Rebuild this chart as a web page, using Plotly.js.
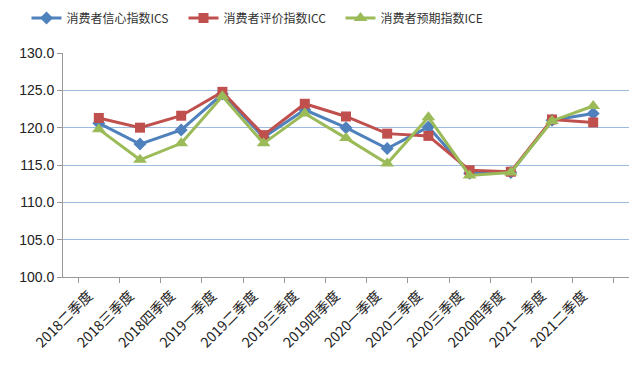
<!DOCTYPE html>
<html>
<head>
<meta charset="utf-8">
<script src="https://cdn.plot.ly/plotly-3.0.1.min.js"></script>
<style>html,body{margin:0;padding:0;background:#fff;}#chart{width:639px;height:374px;}</style>
</head>
<body>
<div id="chart"></div>
<script>
const categories = ["2018二季度","2018三季度","2018四季度","2019一季度","2019二季度","2019三季度","2019四季度","2020一季度","2020二季度","2020三季度","2020四季度","2021一季度","2021二季度"];
const icsValues = [120.6, 117.8, 119.7, 124.5, 118.7, 122.4, 120.0, 117.2, 120.1, 113.9, 114.0, 121.0, 121.9];
const iccValues = [121.3, 120.0, 121.6, 124.8, 119.0, 123.2, 121.5, 119.2, 118.9, 114.3, 114.1, 121.1, 120.7];
const iceValues = [119.8, 115.7, 117.9, 124.2, 117.9, 121.9, 118.6, 115.2, 121.4, 113.6, 114.0, 120.9, 122.9];
const seriesNames = ["消费者信心指数ICS", "消费者评价指数ICC", "消费者预期指数ICE"];

const traces = [
  {x: categories, y: icsValues, name: seriesNames[0], type: 'scatter', mode: 'lines+markers',
   line: {color: '#4F81BD', width: 3}, marker: {symbol: 'diamond', size: 10, color: '#4F81BD'}},
  {x: categories, y: iccValues, name: seriesNames[1], type: 'scatter', mode: 'lines+markers',
   line: {color: '#C0504D', width: 3}, marker: {symbol: 'square', size: 10, color: '#C0504D'}},
  {x: categories, y: iceValues, name: seriesNames[2], type: 'scatter', mode: 'lines+markers',
   line: {color: '#9BBB59', width: 3}, marker: {symbol: 'triangle-up', size: 12, color: '#9BBB59'}}
];

const layout = {
  width: 639, height: 374,
  margin: {l: 63, r: 10, t: 53, b: 97},
  paper_bgcolor: '#fff', plot_bgcolor: '#fff',
  showlegend: true,
  legend: {orientation: 'h', xref: 'container', yref: 'container', x: 0.41, xanchor: 'center',
           y: 1 - 18/374, yanchor: 'middle', entrywidth: 112,
           font: {family: 'Noto Sans CJK SC', size: 12, color: '#333'}, traceorder: 'normal'},
  xaxis: {
    type: 'category', tickangle: -45, tickson: 'boundaries', ticks: 'outside', ticklen: 5,
    tickcolor: '#999', showline: true, linecolor: '#999', linewidth: 1, showgrid: false,
    ticklabelshift: -10, ticklabelstandoff: 4,
    tickfont: {family: 'Noto Sans CJK SC', size: 14, color: '#222'}, automargin: false
  },
  yaxis: {
    range: [100, 130], dtick: 5, tick0: 100, tickformat: '.1f', ticks: 'outside', ticklen: 5,
    tickcolor: '#999', showline: true, linecolor: '#999', linewidth: 1,
    showgrid: true, gridcolor: '#9DBBE0', gridwidth: 1, zeroline: false,
    tickfont: {family: 'Liberation Sans', size: 14, color: '#222'}, automargin: false
  }
};

Plotly.newPlot('chart', traces, layout, {staticPlot: true, displayModeBar: false});
</script>
</body>
</html>
